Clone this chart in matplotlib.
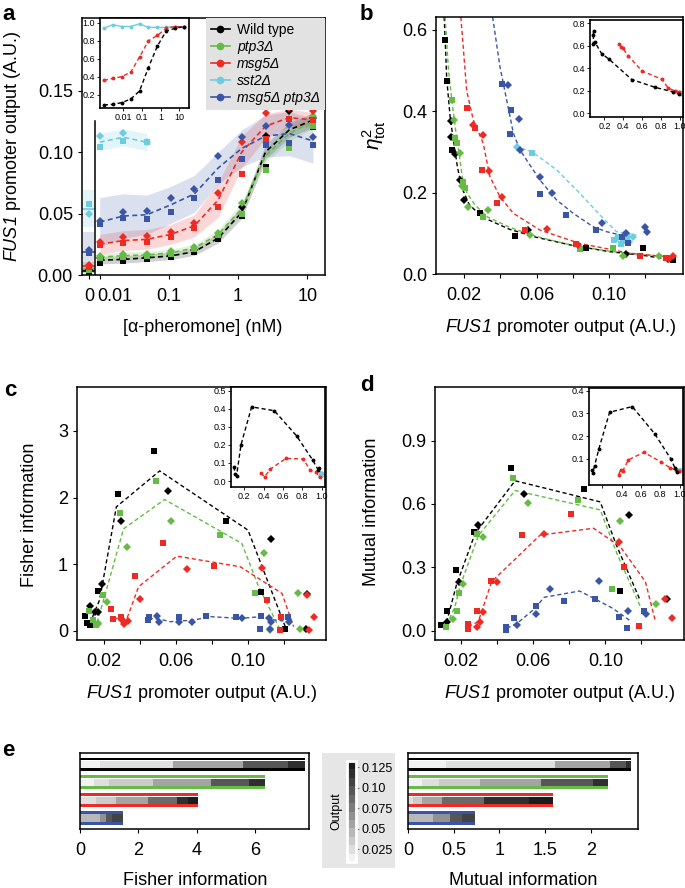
import matplotlib.pyplot as plt
import numpy as np
from matplotlib.colors import LinearSegmentedColormap, Normalize
from matplotlib.cm import ScalarMappable
from matplotlib.lines import Line2D
from matplotlib.patches import Rectangle

plt.rcParams['font.family'] = ['Liberation Sans', 'DejaVu Sans']
plt.rcParams['mathtext.fontset'] = 'custom'
plt.rcParams['mathtext.rm'] = 'Liberation Sans'
plt.rcParams['mathtext.it'] = 'Liberation Sans:italic'
plt.rcParams['mathtext.sf'] = 'Liberation Sans:italic'
plt.rcParams['axes.linewidth'] = 1.1
plt.rcParams['xtick.major.size'] = 3
plt.rcParams['ytick.major.size'] = 3
plt.rcParams['xtick.major.width'] = 0.8
plt.rcParams['ytick.major.width'] = 0.8

# ---------------- data ----------------
strains = ['Wild type', 'ptp3Δ', 'msg5Δ', 'sst2Δ', 'msg5Δ ptp3Δ']
colors = ['#000000', '#66bb46', '#ee2a24', '#6ccde0', '#3a55a5']

# a: dose response (nM)
conc = [0.01, 0.022, 0.048, 0.106, 0.234, 0.515, 1.13, 2.49, 5.49, 12.1]
wt_sq = [0.0095, 0.0116, 0.013, 0.015, 0.0184, 0.029, 0.048, 0.088, 0.1076, 0.12]
wt_di = [0.0135, 0.0135, 0.0145, 0.016, 0.020, 0.031, 0.055, 0.113, 0.133, 0.128]
wt_mean = [0.012, 0.0127, 0.014, 0.0155, 0.019, 0.030, 0.051, 0.100, 0.118, 0.126]
wt_band = [0.003, 0.003, 0.003, 0.003, 0.003, 0.004, 0.005, 0.006, 0.006, 0.006]
ptp3_sq = [0.0135, 0.0145, 0.0155, 0.017, 0.021, 0.0327, 0.050, 0.085, 0.103, 0.121]
ptp3_di = [0.0154, 0.0168, 0.017, 0.0197, 0.023, 0.034, 0.0586, 0.108, 0.127, 0.129]
ptp3_mean = [0.0145, 0.0157, 0.0163, 0.018, 0.022, 0.033, 0.054, 0.097, 0.115, 0.125]
ptp3_band = [0.003, 0.003, 0.003, 0.003, 0.003, 0.004, 0.005, 0.006, 0.006, 0.006]
msg5_sq = [0.0243, 0.0257, 0.0268, 0.0305, 0.038, 0.055, 0.082, 0.111, 0.127, 0.126]
msg5_di = [0.0268, 0.0305, 0.032, 0.035, 0.042, 0.0668, 0.108, 0.132, 0.136, 0.133]
msg5_mean = [0.025, 0.028, 0.029, 0.033, 0.040, 0.061, 0.100, 0.121, 0.128, 0.126]
msg5_band = [0.008, 0.008, 0.008, 0.008, 0.009, 0.014, 0.013, 0.010, 0.007, 0.006]
sst2_sq = [0.104, 0.109, 0.108]
sst2_di = [0.1127, 0.1154, 0.108]
sst2_mean = [0.108, 0.112, 0.108]
sst2_band = [0.007, 0.007, 0.007]
dbl_sq = [0.0414, 0.046, 0.0457, 0.051, 0.0624, 0.077, 0.094, 0.106, 0.107, 0.106]
dbl_di = [0.044, 0.051, 0.052, 0.063, 0.070, 0.0965, 0.112, 0.121, 0.122, 0.112]
dbl_mean = [0.043, 0.048, 0.049, 0.057, 0.066, 0.087, 0.103, 0.113, 0.115, 0.109]
dbl_band = [0.020, 0.018, 0.016, 0.015, 0.015, 0.013, 0.015, 0.017, 0.018, 0.018]
# no pheromone (0 nM), order as strains
zero_sq = [0.0027, 0.004, 0.0065, 0.058, 0.018]
zero_di = [0.004, 0.0054, 0.008, 0.050, 0.0203]
zero_mean = [0.0035, 0.0047, 0.0072, 0.054, 0.019]
zero_band = [0.002, 0.002, 0.003, 0.015, 0.016]

# a inset: normalised response
conc_in = [0.0009, 0.0027, 0.0082, 0.025, 0.074, 0.22, 0.66, 2.0, 6.0, 18.0]
ain_wt = [0.085, 0.09, 0.11, 0.15, 0.24, 0.50, 0.74, 0.91, 0.94, 0.96]
ain_msg5 = [0.36, 0.38, 0.40, 0.45, 0.62, 0.80, 0.86, 0.94, 0.96, 0.95]
ain_sst2 = [0.94, 0.98, 0.96, 0.96, 0.99, 0.95, 0.95, 0.95, 0.96, 0.95]

# b: total noise vs output
b_wt_sq = [(0.0097, 0.574), (0.0105, 0.475), (0.0134, 0.305), (0.0288, 0.149), (0.048, 0.093),
           (0.0875, 0.063), (0.1187, 0.063), (0.135, 0.034)]
b_wt_di = [(0.0128, 0.375), (0.0127, 0.336), (0.0152, 0.294), (0.0178, 0.231), (0.020, 0.182),
           (0.0554, 0.108), (0.1095, 0.049), (0.1325, 0.036)]
b_wt_fit = [(0.0091, 0.631), (0.0097, 0.57), (0.0105, 0.48), (0.0125, 0.38), (0.0145, 0.32),
            (0.0165, 0.26), (0.019, 0.21), (0.023, 0.17), (0.030, 0.14), (0.045, 0.11),
            (0.060, 0.09), (0.080, 0.07), (0.100, 0.055), (0.120, 0.045), (0.134, 0.035)]
b_ptp3_sq = [(0.0134, 0.428), (0.015, 0.334), (0.0161, 0.321), (0.0193, 0.227), (0.0206, 0.212),
             (0.0303, 0.139), (0.0839, 0.061), (0.1022, 0.063)]
b_ptp3_di = [(0.0147, 0.379), (0.0178, 0.297), (0.0187, 0.215), (0.0224, 0.164), (0.0334, 0.157),
             (0.0563, 0.096), (0.1077, 0.044), (0.1275, 0.044)]
b_ptp3_fit = [(0.0096, 0.631), (0.0115, 0.50), (0.0135, 0.42), (0.0155, 0.35), (0.0175, 0.29),
              (0.019, 0.24), (0.0215, 0.20), (0.026, 0.17), (0.033, 0.14), (0.045, 0.115),
              (0.060, 0.092), (0.080, 0.07), (0.100, 0.056), (0.128, 0.044)]
b_msg5_sq = [(0.0215, 0.407), (0.0261, 0.358), (0.0301, 0.256), (0.038, 0.174), (0.0536, 0.107),
             (0.082, 0.073), (0.1169, 0.044), (0.1316, 0.039)]
b_msg5_di = [(0.0251, 0.366), (0.0306, 0.342), (0.0338, 0.252), (0.0407, 0.19), (0.066, 0.11),
             (0.083, 0.07), (0.1352, 0.043), (0.133, 0.038)]
b_msg5_fit = [(0.0183, 0.631), (0.0215, 0.45), (0.0251, 0.379), (0.0306, 0.321), (0.0343, 0.239),
              (0.0398, 0.19), (0.0472, 0.149), (0.0618, 0.108), (0.0839, 0.075), (0.1114, 0.051),
              (0.1352, 0.041)]
b_sst2_sq = [(0.0573, 0.297), (0.1026, 0.084), (0.105, 0.092), (0.1075, 0.080), (0.110, 0.092),
             (0.1065, 0.073)]
b_sst2_di = [(0.049, 0.313), (0.108, 0.095), (0.113, 0.090), (0.1045, 0.088), (0.111, 0.078)]
b_sst2_fit = [(0.0481, 0.313), (0.0572, 0.301), (0.071, 0.256), (0.0839, 0.198), (0.0949, 0.145),
              (0.104, 0.104), (0.115, 0.096)]
b_dbl_sq = [(0.0407, 0.467), (0.0457, 0.403), (0.0453, 0.344), (0.0618, 0.197), (0.0765, 0.145),
            (0.093, 0.108), (0.1105, 0.077), (0.107, 0.090)]
b_dbl_di = [(0.044, 0.465), (0.0503, 0.381), (0.051, 0.305), (0.0618, 0.238), (0.0684, 0.198),
            (0.0958, 0.126), (0.1092, 0.100), (0.1196, 0.116), (0.1209, 0.104)]
b_dbl_fit = [(0.0358, 0.631), (0.0398, 0.51), (0.0435, 0.428), (0.0472, 0.346), (0.0508, 0.305),
             (0.0545, 0.28), (0.0618, 0.231), (0.071, 0.182), (0.0802, 0.149), (0.0912, 0.116),
             (0.0985, 0.104), (0.1095, 0.092)]
# b inset (normalised output)
bin_wt = [(0.08, 0.70), (0.085, 0.73), (0.08, 0.62), (0.10, 0.63), (0.17, 0.53), (0.25, 0.48),
          (0.49, 0.30), (0.74, 0.23), (0.93, 0.19), (0.99, 0.17)]
bin_msg5 = [(0.353, 0.613), (0.379, 0.593), (0.396, 0.578), (0.45, 0.513), (0.60, 0.376),
            (0.81, 0.302), (0.88, 0.222), (0.95, 0.199), (0.99, 0.187)]
bin_sst2 = [(0.96, 0.20), (1.0, 0.19), (1.02, 0.17)]

# c: Fisher information vs output
c_wt_sq = [(0.0095, 0.22), (0.0111, 0.12), (0.0126, 0.08), (0.0172, 0.59), (0.0278, 2.05),
           (0.0477, 2.7), (0.0878, 1.65), (0.1074, 0.585), (0.1203, 0.02)]
c_wt_di = [(0.0126, 0.375), (0.015, 0.28), (0.0169, 0.285), (0.0193, 0.705), (0.0298, 1.64),
           (0.0555, 2.1), (0.1128, 1.37), (0.1327, 0.55), (0.132, 0.02)]
c_wt_mean = [(0.0124, 0.11), (0.0178, 0.46), (0.0271, 1.86), (0.0511, 2.4), (0.100, 1.51),
             (0.1215, 0.0)]
c_ptp3_sq = [(0.0122, 0.30), (0.0144, 0.16), (0.016, 0.085), (0.0196, 0.53), (0.0292, 1.76),
             (0.049, 2.25), (0.0845, 1.44), (0.1037, 0.57)]
c_ptp3_di = [(0.0169, 0.10), (0.017, 0.12), (0.0218, 0.43), (0.0329, 1.26), (0.0575, 1.64),
             (0.1087, 1.16), (0.1279, 0.57), (0.129, 0.02), (0.112, 0.01)]
c_ptp3_mean = [(0.0135, 0.06), (0.0163, 0.11), (0.020, 0.46), (0.0311, 1.53), (0.0538, 1.97),
               (0.0966, 1.31), (0.1059, 0.66), (0.1179, 0.01)]
c_msg5_sq = [(0.0241, 0.32), (0.0252, 0.175), (0.0296, 0.21), (0.0374, 0.82), (0.0532, 1.32),
             (0.0809, 0.975), (0.1105, 0.46), (0.1183, 0.20), (0.118, 0.01)]
c_msg5_di = [(0.0302, 0.16), (0.0311, 0.10), (0.0333, 0.15), (0.0403, 0.47), (0.0662, 0.92),
             (0.1075, 0.945), (0.1327, 0.535), (0.1336, 0.01), (0.1363, 0.20)]
c_msg5_mean = [(0.0256, 0.185), (0.033, 0.185), (0.0394, 0.66), (0.0606, 1.12), (0.0957, 0.96),
               (0.1188, 0.56), (0.1253, 0.06)]
c_dbl_sq = [(0.045, 0.21), (0.0444, 0.16), (0.0617, 0.21), (0.0765, 0.22), (0.0931, 0.20),
            (0.107, 0.22), (0.1065, 0.02), (0.1219, 0.21)]
c_dbl_di = [(0.0496, 0.22), (0.0506, 0.135), (0.0617, 0.135), (0.0691, 0.135), (0.0969, 0.185),
            (0.1117, 0.185), (0.1126, 0.135), (0.1122, 0.02), (0.1228, 0.135)]
c_dbl_mean = [(0.045, 0.185), (0.0515, 0.17), (0.057, 0.135), (0.070, 0.16), (0.0793, 0.21),
              (0.096, 0.185), (0.107, 0.21), (0.1144, 0.16), (0.1237, 0.135)]
cin_wt = [(0.095, 0.08), (0.104, 0.04), (0.121, 0.03), (0.166, 0.20), (0.276, 0.41), (0.51, 0.389),
          (0.74, 0.25), (0.907, 0.116), (0.965, 0.06), (0.975, 0.07)]
cin_msg5 = [(0.37, 0.043), (0.41, 0.024), (0.47, 0.066), (0.63, 0.125), (0.81, 0.122),
            (0.88, 0.06), (0.94, 0.048), (0.98, 0.024)]
cin_sst2 = [(0.98, 0.03), (0.99, 0.043), (1.0, 0.04)]

# d: mutual information vs output
d_wt_sq = [(0.0091, 0.028), (0.012, 0.095), (0.017, 0.288), (0.0272, 0.469), (0.0478, 0.772),
           (0.088, 0.671), (0.108, 0.188)]
d_wt_di = [(0.012, 0.04), (0.0189, 0.232), (0.0294, 0.50), (0.0552, 0.645), (0.1131, 0.548),
           (0.1343, 0.152)]
d_wt_mean = [(0.012, 0.04), (0.0176, 0.22), (0.0278, 0.46), (0.050, 0.71), (0.0972, 0.61),
             (0.1059, 0.41), (0.119, 0.15)]
d_ptp3_sq = [(0.0117, 0.019), (0.0176, 0.095), (0.0189, 0.18), (0.0287, 0.458), (0.0487, 0.722),
             (0.0846, 0.619), (0.1035, 0.196)]
d_ptp3_di = [(0.0157, 0.054), (0.0213, 0.223), (0.0324, 0.445), (0.0574, 0.607), (0.1083, 0.521),
             (0.1281, 0.126)]
d_ptp3_mean = [(0.012, 0.027), (0.0167, 0.114), (0.0194, 0.209), (0.0296, 0.45), (0.050, 0.664),
               (0.0972, 0.572), (0.1064, 0.366), (0.1194, 0.114)]
d_msg5_sq = [(0.0237, 0.01), (0.0241, 0.03), (0.0287, 0.095), (0.0367, 0.237), (0.0537, 0.453),
             (0.0811, 0.551), (0.1106, 0.30), (0.1187, 0.02)]
d_msg5_di = [(0.0287, 0.019), (0.0306, 0.043), (0.0324, 0.087), (0.0398, 0.229), (0.0661, 0.458),
             (0.1076, 0.419), (0.133, 0.152), (0.1371, 0.058)]
d_msg5_mean = [(0.0241, 0.019), (0.0296, 0.043), (0.037, 0.232), (0.0639, 0.453), (0.0935, 0.485),
               (0.1083, 0.398), (0.1222, 0.232), (0.1278, 0.043)]
d_dbl_sq = [(0.045, 0.019), (0.045, 0.005), (0.0496, 0.058), (0.0615, 0.117), (0.0769, 0.139),
            (0.0941, 0.15), (0.112, 0.011), (0.1076, 0.066), (0.1213, 0.095)]
d_dbl_di = [(0.0509, 0.027), (0.0617, 0.079), (0.0693, 0.196), (0.0965, 0.237), (0.1126, 0.095),
            (0.1226, 0.079)]
d_dbl_mean = [(0.0454, 0.011), (0.051, 0.034), (0.0611, 0.106), (0.066, 0.158), (0.0857, 0.188),
              (0.0948, 0.148), (0.1041, 0.106), (0.1133, 0.05)]
din_wt = [(0.095, 0.05), (0.104, 0.037), (0.121, 0.07), (0.166, 0.145), (0.276, 0.305), (0.51, 0.33),
          (0.74, 0.211), (0.907, 0.10), (0.95, 0.06), (0.975, 0.04)]
din_msg5 = [(0.37, 0.03), (0.39, 0.05), (0.41, 0.045), (0.47, 0.095), (0.63, 0.128), (0.81, 0.085),
            (0.90, 0.06), (0.96, 0.05), (0.99, 0.045)]
din_sst2 = [(0.97, 0.05), (0.99, 0.045), (1.0, 0.05)]

# e: cumulative information, segment edges and output level of each segment
fi_edges = [[0, 0.4, 0.67, 1.3, 3.17, 5.57, 7.1, 7.68],
            [0, 0.48, 1.0, 2.5, 4.47, 5.78, 6.33],
            [0, 0.55, 1.22, 2.34, 3.31, 3.68, 4.02],
            [0, 0.4, 0.69, 0.9, 1.09, 1.46]]
mi_edges = [[0, 0.153, 0.415, 0.9, 1.61, 2.21, 2.38, 2.44],
            [0, 0.153, 0.343, 0.787, 1.45, 2.02, 2.19],
            [0, 0.06, 0.153, 0.377, 0.835, 1.32, 1.59],
            [0, 0.12, 0.27, 0.46, 0.59, 0.73]]
seg_output = [[0.012, 0.015, 0.02, 0.03, 0.055, 0.10, 0.12],
              [0.015, 0.02, 0.033, 0.055, 0.10, 0.12],
              [0.03, 0.035, 0.06, 0.09, 0.115, 0.125],
              [0.045, 0.05, 0.07, 0.10, 0.11]]
e_colors = ['#000000', '#66bb46', '#ee2a24', '#3a55a5']

# ---------------- layout helpers ----------------
W, H = 685, 888


def box(l, t, r, b):
    return [l / W, 1 - b / H, (r - l) / W, (b - t) / H]


def ftext(x, y, s, **kw):
    fig.text(x / W, 1 - y / H, s, ha='center', va='center', **kw)


def xy(pts):
    return [p[0] for p in pts], [p[1] for p in pts]


FUS1 = r'$\mathsf{FUS1}$ promoter output (A.U.)'
DASH = (3, 2)
fig = plt.figure(figsize=(6.85, 8.88), dpi=100)


def style_main(ax):
    ax.tick_params(axis='x', labelsize=13, pad=6.5)
    ax.tick_params(axis='y', labelsize=13, pad=3.5)


def style_inset(ax):
    ax.tick_params(labelsize=6.5, length=2, pad=1.5, width=0.6)
    for s in ax.spines.values():
        s.set_linewidth(1.2)


def reps(ax, sq, di, col, ms=4):
    ax.plot(*xy(sq), 's', color=col, ms=ms, mew=0, zorder=4)
    ax.plot(*xy(di), 'D', color=col, ms=ms - 0.4, mew=0, zorder=4)


def output_axis(ax):
    ax.set_xticks([0.02, 0.04, 0.06, 0.08, 0.10, 0.12])
    ax.set_xticklabels(['0.02', '', '0.06', '', '0.10', ''])


# ---------------- panel a ----------------
ax = fig.add_axes(box(82, 18, 325, 275))
ax.set_xscale('log')
zero_pos, zl, zr, sep = 0.007, 0.0058, 0.0083, 0.00865
a_series = [(wt_sq, wt_di, wt_mean, wt_band), (ptp3_sq, ptp3_di, ptp3_mean, ptp3_band),
            (msg5_sq, msg5_di, msg5_mean, msg5_band), (sst2_sq, sst2_di, sst2_mean, sst2_band),
            (dbl_sq, dbl_di, dbl_mean, dbl_band)]
for i, (sq, di, mean, band) in enumerate(a_series):
    col = colors[i]
    x = conc[:len(mean)]
    m, bd = np.array(mean), np.array(band)
    ax.fill_between(x, m - bd, m + bd, color=col, alpha=0.18, lw=0)
    ax.plot(x, mean, color=col, lw=1.2, dashes=DASH)
    ax.plot(x, sq, 's', color=col, ms=4, mew=0, zorder=4)
    ax.plot(x, di, 'D', color=col, ms=3.6, mew=0, zorder=4)
    zm, zb = zero_mean[i], zero_band[i]
    ax.fill_between([zl, zr], zm - zb, zm + zb, color=col, alpha=0.18, lw=0)
    ax.plot([zl, zr], [zm, zm], color=col, lw=1.2)
    ax.plot([zero_pos], [zero_sq[i]], 's', color=col, ms=4, mew=0, zorder=4, clip_on=False)
    ax.plot([zero_pos], [zero_di[i]], 'D', color=col, ms=3.6, mew=0, zorder=4, clip_on=False)
ax.axvline(sep, ymin=0, ymax=0.6, color='black', lw=1.1)
ax.set_xlim(10 ** -2.256, 10 ** 1.256)
ax.set_ylim(0, 0.209)
ax.minorticks_off()
ax.set_xticks([zero_pos, 0.01, 0.1, 1, 10])
ax.set_xticklabels(['0', '', '0.1', '1', '10'])
# the "0.01" label sits a little right of its tick, as in the original
ax.annotate('0.01', xy=(0.01, 0), xycoords=('data', 'axes fraction'), xytext=(11, -9.5),
            textcoords='offset points', ha='center', va='top', fontsize=13)
ax.set_yticks([0, 0.05, 0.10, 0.15])
ax.set_yticklabels(['0.00', '0.05', '0.10', '0.15'])
style_main(ax)
handles = [Line2D([], [], color=c, marker='o', ms=4.5, lw=1.2) for c in colors]
leg = ax.legend(handles, strains, loc='upper right', bbox_to_anchor=(1, 1), borderaxespad=0,
                fontsize=10, frameon=True, fancybox=False, handlelength=1.4,
                handletextpad=0.5, labelspacing=0.22, borderpad=0.35)
leg.get_frame().set_facecolor('#e2e2e2')
leg.get_frame().set_edgecolor('none')
leg.get_frame().set_alpha(1)
for t in leg.get_texts()[1:]:
    t.set_fontstyle('italic')

ai = fig.add_axes(box(100, 18, 189, 108))
ai.set_xscale('log')
ai.plot(conc_in, ain_sst2, color=colors[3], lw=1, marker='o', ms=1.8)
ai.plot(conc_in, ain_msg5, color=colors[2], lw=1, dashes=DASH, marker='o', ms=1.8)
ai.plot(conc_in, ain_wt, color=colors[0], lw=1, dashes=DASH, marker='o', ms=1.8)
ai.set_xlim(10 ** -3.25, 10 ** 1.52)
ai.set_ylim(0.05, 1.055)
ai.minorticks_off()
ai.set_xticks([0.01, 0.1, 1, 10])
ai.set_xticklabels(['0.01', '0.1', '1', '10'])
ai.set_yticks([0.2, 0.4, 0.6, 0.8, 1.0])
ai.set_yticklabels(['0.2', '0.4', '0.6', '0.8', '1.0'])
style_inset(ai)

# ---------------- panel b ----------------
bx = fig.add_axes(box(436, 17, 683, 274))
b_series = [(b_wt_sq, b_wt_di, b_wt_fit), (b_ptp3_sq, b_ptp3_di, b_ptp3_fit),
            (b_msg5_sq, b_msg5_di, b_msg5_fit), (b_sst2_sq, b_sst2_di, b_sst2_fit),
            (b_dbl_sq, b_dbl_di, b_dbl_fit)]
for i, (sq, di, fit) in enumerate(b_series):
    bx.plot(*xy(fit), color=colors[i], lw=1, dashes=DASH)
for i, (sq, di, fit) in enumerate(b_series):
    reps(bx, sq, di, colors[i])
bx.set_xlim(0.0046, 0.1407)
bx.set_ylim(0, 0.631)
output_axis(bx)
bx.set_yticks([0, 0.2, 0.4, 0.6])
bx.set_yticklabels(['0.0', '0.2', '0.4', '0.6'])
style_main(bx)

bi = fig.add_axes(box(590, 20, 683, 117))
bi.plot(*xy(bin_sst2), color=colors[3], lw=1, dashes=DASH, marker='o', ms=1.8)
bi.plot(*xy(bin_msg5), color=colors[2], lw=1, dashes=DASH, marker='o', ms=1.8)
bi.plot(*xy(bin_wt), color=colors[0], lw=1, dashes=DASH, marker='o', ms=1.8)
bi.set_xlim(0.046, 1.036)
bi.set_ylim(-0.034, 0.83)
bi.set_xticks([0.2, 0.4, 0.6, 0.8, 1.0])
bi.set_xticklabels(['0.2', '0.4', '0.6', '0.8', '1.0'])
bi.set_yticks([0, 0.2, 0.4, 0.6, 0.8])
bi.set_yticklabels(['0.0', '0.2', '0.4', '0.6', '0.8'])
style_inset(bi)

# ---------------- panel c ----------------
cx = fig.add_axes(box(77, 387, 326, 640))
c_series = [(c_wt_sq, c_wt_di, c_wt_mean, 0), (c_ptp3_sq, c_ptp3_di, c_ptp3_mean, 1),
            (c_msg5_sq, c_msg5_di, c_msg5_mean, 2), (c_dbl_sq, c_dbl_di, c_dbl_mean, 4)]
for sq, di, mean, k in c_series:
    cx.plot(*xy(mean), color=colors[k], lw=1, dashes=DASH)
for sq, di, mean, k in c_series:
    reps(cx, sq, di, colors[k])
cx.set_xlim(0.0053, 0.1432)
cx.set_ylim(-0.14, 3.66)
output_axis(cx)
cx.set_yticks([0, 1, 2, 3])
style_main(cx)

ci = fig.add_axes(box(231, 387, 325, 487))
ci.plot(*xy(cin_sst2), color=colors[3], lw=1, marker='o', ms=2.5, dashes=DASH)
ci.plot(*xy(cin_msg5), color=colors[2], lw=1, dashes=DASH, marker='o', ms=1.8)
ci.plot(*xy(cin_wt), color=colors[0], lw=1, dashes=DASH, marker='o', ms=1.8)
ci.set_xlim(0.063, 1.034)
ci.set_ylim(-0.033, 0.52)
ci.set_xticks([0.2, 0.4, 0.6, 0.8, 1.0])
ci.set_xticklabels(['0.2', '0.4', '0.6', '0.8', '1.0'])
ci.set_yticks([0, 0.1, 0.2, 0.3, 0.4, 0.5])
ci.set_yticklabels(['0.0', '0.1', '0.2', '0.3', '0.4', '0.5'])
style_inset(ci)

# ---------------- panel d ----------------
dx = fig.add_axes(box(435, 387, 684, 640))
d_series = [(d_wt_sq, d_wt_di, d_wt_mean, 0), (d_ptp3_sq, d_ptp3_di, d_ptp3_mean, 1),
            (d_msg5_sq, d_msg5_di, d_msg5_mean, 2), (d_dbl_sq, d_dbl_di, d_dbl_mean, 4)]
for sq, di, mean, k in d_series:
    dx.plot(*xy(mean), color=colors[k], lw=1, dashes=DASH)
for sq, di, mean, k in d_series:
    reps(dx, sq, di, colors[k])
dx.set_xlim(0.0056, 0.1436)
dx.set_ylim(-0.044, 1.154)
output_axis(dx)
dx.set_yticks([0, 0.3, 0.6, 0.9])
dx.set_yticklabels(['0.0', '0.3', '0.6', '0.9'])
style_main(dx)

di_ax = fig.add_axes(box(589, 388, 683, 485))
di_ax.plot(*xy(din_sst2), color=colors[3], lw=1, marker='o', ms=2.5, dashes=DASH)
di_ax.plot(*xy(din_msg5), color=colors[2], lw=1, dashes=DASH, marker='o', ms=1.8)
di_ax.plot(*xy(din_wt), color=colors[0], lw=1, dashes=DASH, marker='o', ms=1.8)
di_ax.set_xlim(0.063, 1.034)
di_ax.set_ylim(-0.016, 0.412)
di_ax.set_xticks([0.2, 0.4, 0.6, 0.8, 1.0])
di_ax.set_xticklabels(['', '0.4', '0.6', '0.8', '1.0'])
di_ax.set_yticks([0.1, 0.2, 0.3, 0.4])
di_ax.set_yticklabels(['0.1', '0.2', '0.3', '0.4'])
style_inset(di_ax)

# ---------------- panel e ----------------
gray_cmap = LinearSegmentedColormap.from_list('out', ['#f2f2f2', '#1c1c1c'], N=12)
gnorm = Normalize(0.0096, 0.1323)


def info_bars(ax, edges_list):
    for g, edges in enumerate(edges_list):
        yc = 3 - g
        total = edges[-1]
        for off in (0.3, -0.3):
            ax.barh(yc + off, total, height=0.15, color=e_colors[g], lw=0)
        for j in range(len(edges) - 1):
            ax.barh(yc, edges[j + 1] - edges[j], left=edges[j], height=0.4,
                    color=gray_cmap(gnorm(seg_output[g][j])), lw=0)
    ax.set_ylim(-0.61, 3.63)
    ax.set_yticks([])
    ax.tick_params(axis='x', labelsize=13, pad=6.5)


ex1 = fig.add_axes(box(80, 753, 309, 829))
info_bars(ex1, fi_edges)
ex1.set_xlim(0, 7.83)
ex1.set_xticks([0, 2, 4, 6])

ex2 = fig.add_axes(box(408, 753, 638, 829))
info_bars(ex2, mi_edges)
ex2.set_xlim(0, 2.515)
ex2.set_xticks([0, 0.5, 1, 1.5, 2])
ex2.set_xticklabels(['0', '0.5', '1', '1.5', '2'])

l, t, r, b = 322, 753, 395, 868
fig.add_artist(Rectangle((l / W, 1 - b / H), (r - l) / W, (b - t) / H, transform=fig.transFigure,
                         facecolor='#e6e6e6', edgecolor='none', zorder=0))
cax = fig.add_axes(box(347, 761, 356, 862))
cb = fig.colorbar(ScalarMappable(norm=gnorm, cmap=gray_cmap), cax=cax)
cb.set_ticks([0.025, 0.05, 0.075, 0.10, 0.125])
cb.set_ticklabels(['0.025', '0.05', '0.075', '0.10', '0.125'])
cb.outline.set_edgecolor('white')
cb.outline.set_linewidth(2)
cax.tick_params(labelsize=9, length=2, pad=2, color='#777777')
cax.yaxis.set_label_position('left')
cax.set_ylabel('Output', fontsize=9, labelpad=3)

# ---------------- labels ----------------
ftext(13, 147, FUS1, rotation=90, fontsize=13)
ftext(203, 328, '[α-pheromone] (nM)', fontsize=13)
ftext(374, 135, r'$\eta^2_{\mathrm{tot}}$', rotation=90, fontsize=15)
ftext(560, 327, FUS1, fontsize=13)
ftext(30, 515, 'Fisher information', rotation=90, fontsize=13)
ftext(201, 693, FUS1, fontsize=13)
ftext(372, 512, 'Mutual information', rotation=90, fontsize=13)
ftext(559, 693, FUS1, fontsize=13)
ftext(195, 880, 'Fisher information', fontsize=13)
ftext(523, 880, 'Mutual information', fontsize=13)
for letter, px, py in [('a', 9, 14), ('b', 366, 15), ('c', 10, 390), ('d', 367, 385), ('e', 8, 750)]:
    ftext(px, py, letter, fontsize=16, fontweight='bold')

plt.savefig('out.png', dpi=100)
